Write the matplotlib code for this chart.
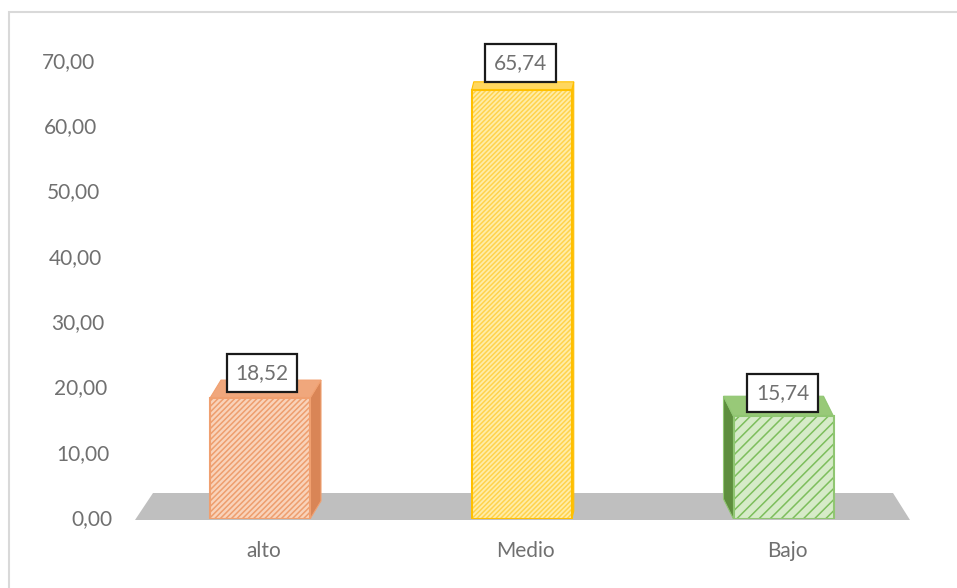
import matplotlib
matplotlib.use("Agg")
import matplotlib.pyplot as plt
from matplotlib.patches import Polygon, Rectangle

categories = ["alto", "Medio", "Bajo"]
values = [18.52, 65.74, 15.74]
value_labels = ["18,52", "65,74", "15,74"]
yticks = [0, 10, 20, 30, 40, 50, 60, 70]
ytick_labels = ["0,00", "10,00", "20,00", "30,00", "40,00", "50,00", "60,00", "70,00"]

# styles
face_colors = ["#F9D3BA", "#FFEDA8", "#D6EBC8"]
hatch_colors = ["#EE9E6E", "#FFD34D", "#7DBE5C"]
edge_colors = ["#F0A070", "#FFC000", "#90C672"]
top_colors = ["#F0A77C", "#FFD75E", "#98C978"]
side_colors = ["#D98556", "#F5C040", "#5E8E3E"]
hatches = ["//////", "///////", "///"]
# 3D offsets in pixels (dx, dy up)
offsets = [(11, 18), (2, 8), (-10, 20)]
label_dx = [2, -1, -1]
label_dy = [25, 27, 23]

plt.rcParams['font.family'] = ['Lato', 'DejaVu Sans']
plt.rcParams['hatch.linewidth'] = 1.1

W, H = 957, 588
fig = plt.figure(figsize=(W / 100, H / 100), dpi=100)

# axes pixel geometry
L, R, B, T = 125, 925, 519, 40
ax = fig.add_axes([L / W, (H - B) / H, (R - L) / W, (B - T) / H])
ppu_y = (519 - 62) / 70.0
x0px, spacing = 260.0, 261.75
ax.set_xlim((L - x0px) / spacing, (R - x0px) / spacing)
ax.set_ylim(0, (B - T) / ppu_y)
ax.axis('off')

def dx(px):
    return px / spacing

def dy(px):
    return px / ppu_y

def xpx(px):
    return (px - x0px) / spacing

def ypx(py):
    return (519 - py) / ppu_y

# floor
floor = Polygon([(xpx(135), ypx(520)), (xpx(153), ypx(493)), (xpx(893), ypx(493)),
                 (xpx(910), ypx(520))], closed=True, facecolor="#BFBFBF",
                edgecolor="none", zorder=1, clip_on=False)
ax.add_patch(floor)

width = dx(100)
xs = list(range(len(categories)))
for i, (x, v) in enumerate(zip(xs, values)):
    ox, oy = dx(offsets[i][0]), dy(offsets[i][1])
    left, right = x - width / 2, x + width / 2
    # side face
    if ox > 0:
        side = [(right, 0), (right, v), (right + ox, v + oy), (right + ox, oy)]
    else:
        side = [(left, 0), (left, v), (left + ox, v + oy), (left + ox, oy)]
    ax.add_patch(Polygon(side, closed=True, facecolor=side_colors[i],
                         edgecolor=edge_colors[i], lw=0.8, zorder=2))
    # top face
    top = [(left, v), (right, v), (right + ox, v + oy), (left + ox, v + oy)]
    ax.add_patch(Polygon(top, closed=True, facecolor=top_colors[i],
                         edgecolor=edge_colors[i], lw=0.8, zorder=2))

# front faces
ax.bar(xs, values, width=width, color=face_colors, edgecolor=hatch_colors,
       hatch=hatches, linewidth=0, zorder=3)
ax.bar(xs, values, width=width, color="none", edgecolor=edge_colors,
       linewidth=1.5, zorder=4)

# data labels
for i, (x, v) in enumerate(zip(xs, values)):
    ax.text(x + dx(label_dx[i]), v + dy(label_dy[i]), value_labels[i],
            ha='center', va='center', fontsize=15, color="#707070", zorder=6,
            bbox=dict(boxstyle='square,pad=0.42', facecolor='white',
                      edgecolor='#1a1a1a', linewidth=1.6))

# y tick labels (slanted axis due to perspective)
for t, lab in zip(yticks, ytick_labels):
    right_px = 112 - (t / 70.0) * 17
    ax.text(xpx(right_px), t, lab, ha='right', va='center', fontsize=15,
            color="#707070", clip_on=False)

# category labels
for x, c in zip(xs, categories):
    ax.text(x + dx(4), ypx(551), c, ha='center', va='center', fontsize=15,
            color="#707070", clip_on=False)

# chart border
fig.patches.append(Rectangle((9 / W, -0.05), 1.1, 1 - 12 / H + 0.05,
                             transform=fig.transFigure, fill=False,
                             edgecolor="#D9D9D9", linewidth=1.5))

fig.savefig("out.png", dpi=100)
